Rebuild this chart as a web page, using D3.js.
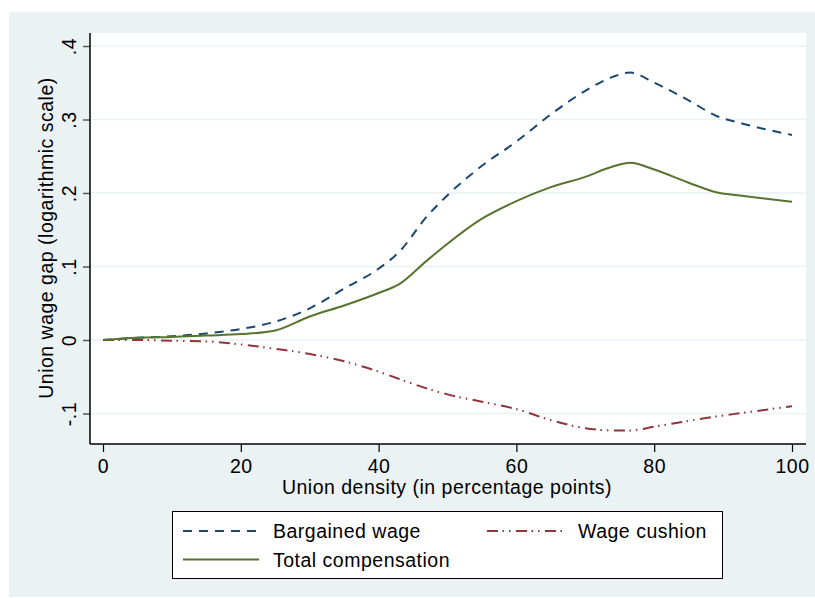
<!DOCTYPE html>
<html>
<head>
<meta charset="utf-8">
<script src="https://cdn.jsdelivr.net/npm/d3@7"></script>
<style>
  body { margin: 0; background: #fff; }
  text { font-family: "Liberation Sans", Arial, sans-serif; fill: #000; font-size: 19.5px; letter-spacing: 0.5px; }
</style>
</head>
<body>
<div id="chart"></div>
<script>
/*
 * Data
 *****************************/
const density = [0, 5, 10, 15, 20, 25, 30, 35, 40, 43, 47, 50, 55, 60, 65, 70, 74, 76.5, 80, 85, 89, 93, 100];
const bargainedWage = [0, 0.003, 0.005, 0.009, 0.015, 0.025, 0.043, 0.07, 0.097, 0.12, 0.168, 0.197, 0.237, 0.27, 0.307, 0.339, 0.358, 0.364, 0.35, 0.326, 0.305, 0.294, 0.279];
const totalCompensation = [0, 0.003, 0.004, 0.006, 0.008, 0.013, 0.032, 0.047, 0.064, 0.076, 0.108, 0.131, 0.165, 0.189, 0.208, 0.222, 0.236, 0.241, 0.232, 0.214, 0.201, 0.196, 0.188];
const wageCushion = [0, 0, -0.001, -0.002, -0.006, -0.012, -0.019, -0.029, -0.043, -0.053, -0.066, -0.074, -0.084, -0.094, -0.109, -0.12, -0.123, -0.123, -0.118, -0.11, -0.104, -0.099, -0.09];

const xTicks = [0, 20, 40, 60, 80, 100];
const yTicks = [-0.1, 0, 0.1, 0.2, 0.3, 0.4];
const yTickLabels = ["-.1", "0", ".1", ".2", ".3", ".4"];

const series = [
  { name: "Bargained wage", values: bargainedWage, color: "#1a476f", dash: "9,7" },
  { name: "Wage cushion", values: wageCushion, color: "#90353b", dash: "11,4.5,1.5,5,1.5,5.5" },
  { name: "Total compensation", values: totalCompensation, color: "#55752f", dash: null }
];

/*
 * Layout
 *****************************/
const W = 815, H = 598;
const plot = { left: 90, right: 806, top: 33, bottom: 444 };

const svg = d3.select("#chart").append("svg")
  .attr("width", W).attr("height", H);

// graph region
svg.append("rect")
  .attr("x", 9).attr("y", 12)
  .attr("width", W - 9).attr("height", 585)
  .attr("fill", "#eaf2f3");

// plot region
svg.append("rect")
  .attr("x", plot.left).attr("y", plot.top)
  .attr("width", plot.right - plot.left).attr("height", plot.bottom - plot.top)
  .attr("fill", "#fff");

const x = d3.scaleLinear().domain([0, 100]).range([103, 792]);
const y = d3.scaleLinear().domain([0, 0.4]).range([340, 46]);

// grid lines
svg.append("g").selectAll("line")
  .data(yTicks)
  .enter()
  .append("line")
  .attr("x1", plot.left).attr("x2", plot.right)
  .attr("y1", d => y(d)).attr("y2", d => y(d))
  .attr("stroke", "#eaf2f3").attr("stroke-width", 1.5);

// y axis
const yAxis = d3.axisLeft(y)
  .tickValues(yTicks)
  .tickSize(7)
  .tickFormat((d, i) => yTickLabels[i]);

const yAxisG = svg.append("g")
  .attr("transform", "translate(" + plot.left + ",0)")
  .call(yAxis);
yAxisG.select(".domain").remove();
yAxisG.selectAll(".tick line").attr("stroke", "#555").attr("stroke-width", 1.5);
yAxisG.selectAll(".tick text")
  .attr("x", null).attr("dy", null)
  .attr("transform", "translate(-14,0) rotate(-90)")
  .attr("text-anchor", "middle")
  .attr("font-size", null)
  .attr("font-family", null);

// x axis
const xAxis = d3.axisBottom(x)
  .tickValues(xTicks)
  .tickSize(8)
  .tickFormat(d3.format("d"));

const xAxisG = svg.append("g")
  .attr("transform", "translate(0," + plot.bottom + ")")
  .call(xAxis);
xAxisG.select(".domain").remove();
xAxisG.selectAll(".tick line").attr("stroke", "#000").attr("stroke-width", 1.2);
xAxisG.selectAll(".tick text")
  .attr("y", 29).attr("dy", null)
  .attr("font-size", null)
  .attr("font-family", null);

// axis lines
svg.append("line")
  .attr("x1", plot.left).attr("x2", plot.left)
  .attr("y1", plot.top).attr("y2", plot.bottom)
  .attr("stroke", "#000").attr("stroke-width", 1.5);
svg.append("line")
  .attr("x1", plot.left).attr("x2", plot.right)
  .attr("y1", plot.bottom).attr("y2", plot.bottom)
  .attr("stroke", "#000").attr("stroke-width", 1.5);

// axis titles
svg.append("text")
  .attr("x", (plot.left + plot.right) / 2 - 1)
  .attr("y", 494)
  .attr("text-anchor", "middle")
  .text("Union density (in percentage points)");

svg.append("text")
  .attr("transform", "translate(53,238) rotate(-90)")
  .attr("text-anchor", "middle")
  .text("Union wage gap (logarithmic scale)");

// lines
const line = d3.line()
  .x((d, i) => x(density[i]))
  .y(d => y(d))
  .curve(d3.curveMonotoneX);

svg.append("g").selectAll("path")
  .data(series)
  .enter()
  .append("path")
  .attr("d", d => line(d.values))
  .attr("fill", "none")
  .attr("stroke", d => d.color)
  .attr("stroke-width", 2)
  .attr("stroke-dasharray", d => d.dash);

// legend
const legend = svg.append("g");
legend.append("rect")
  .attr("x", 172.5).attr("y", 511.5)
  .attr("width", 550).attr("height", 67)
  .attr("fill", "#fff")
  .attr("stroke", "#000").attr("stroke-width", 1);

const legendPos = [
  { x: 183, y: 531 },
  { x: 487, y: 531 },
  { x: 183, y: 559.5 }
];

const items = legend.selectAll("g.item")
  .data(series)
  .enter()
  .append("g")
  .attr("class", "item")
  .attr("transform", (d, i) => "translate(" + legendPos[i].x + "," + legendPos[i].y + ")");

items.append("line")
  .attr("x1", 0).attr("x2", 76)
  .attr("stroke", d => d.color)
  .attr("stroke-width", 2)
  .attr("stroke-dasharray", d => d.dash);

items.append("text")
  .attr("x", d => d.name === "Wage cushion" ? 91 : 90)
  .attr("y", 7.3)
  .text(d => d.name);
</script>
</body>
</html>
